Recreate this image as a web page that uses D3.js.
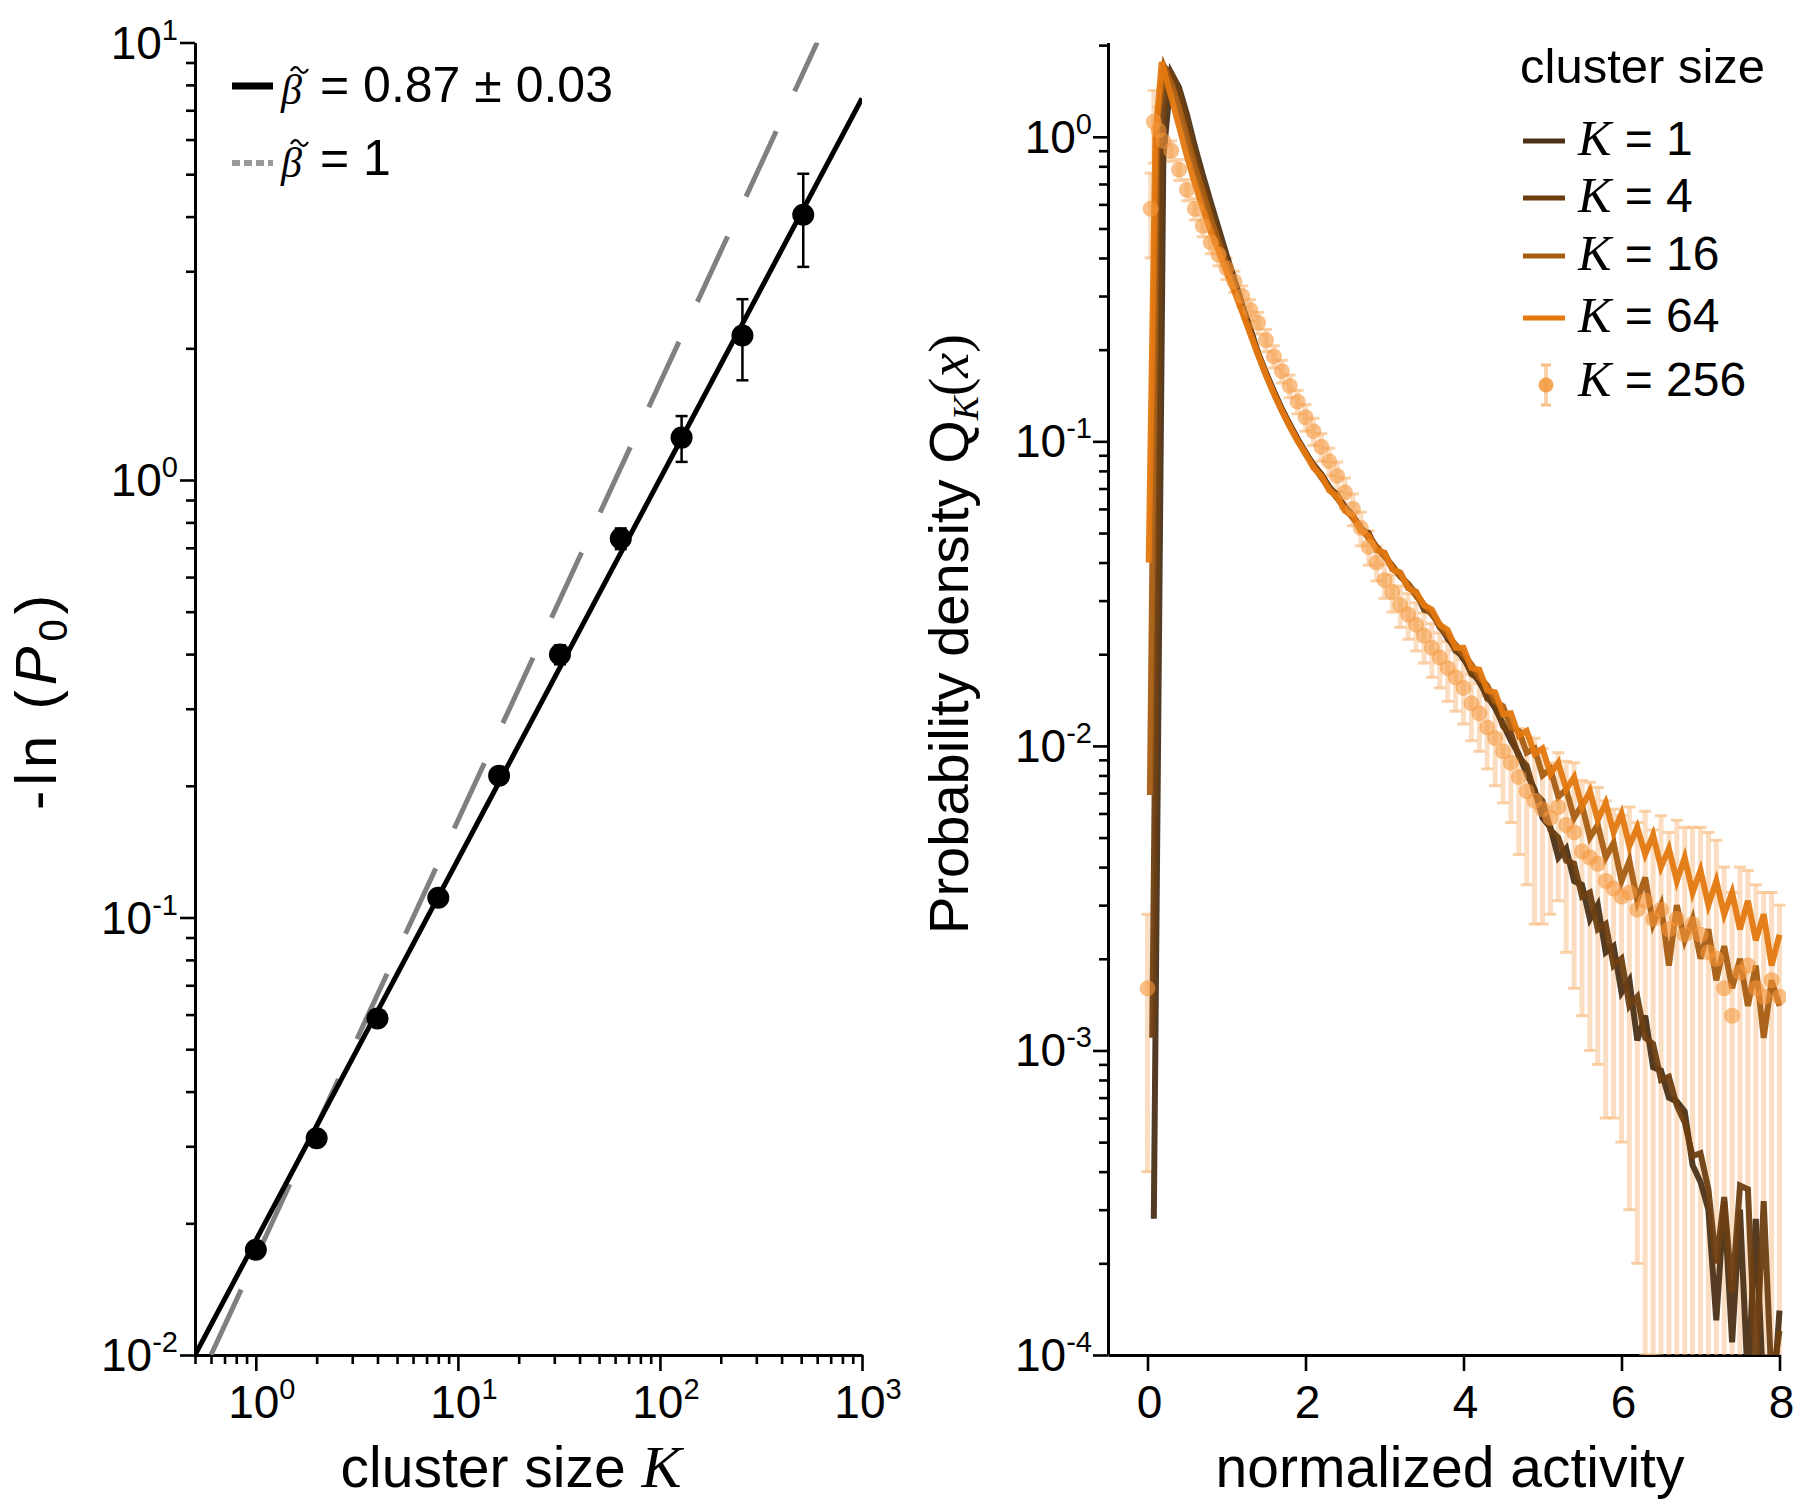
<!DOCTYPE html>
<html><head><meta charset="utf-8">
<script src="https://cdn.jsdelivr.net/npm/d3@7"></script>
<style>body{margin:0;background:#fff}</style>
</head><body><svg id="c" width="1800" height="1511"></svg>
<script>
// ---------------- LEFT PANEL DATA ----------------
const clusterSizes = [1, 2, 4, 8, 16, 32, 64, 128, 256, 512];
const negLnP0 = [0.0174, 0.0313, 0.0588, 0.111, 0.211, 0.399, 0.735, 1.25, 2.14, 4.04];
const negLnP0Err = [0.0003, 0.0005, 0.001, 0.002, 0.005, 0.02, 0.04, 0.15, 0.45, 0.97];
const fitK = [0.5, 1000], fitVal = [0.01, 7.45];      // beta = 0.87 fit
const refK = [0.6, 600], refVal = [0.01, 10];         // beta = 1 reference
const leftXTickExp = ['0', '1', '2', '3'];
const leftYTickExp = ['-2', '-1', '0', '1'];

// ---------------- RIGHT PANEL DATA ----------------
const activity = [0.3,0.4,0.5,0.6,0.7,0.8,0.9,1.0,
 1.1,1.2,1.3,1.4,1.5,1.6,1.7,1.8,1.9,2.0,
 2.1,2.2,2.3,2.4,2.5,2.6,2.7,2.8,2.9,3.0,
 3.1,3.2,3.3,3.4,3.5,3.6,3.7,3.8,3.9,4.0,
 4.1,4.2,4.3,4.4,4.5,4.6,4.7,4.8,4.9,5.0,
 5.1,5.2,5.3,5.4,5.5,5.6,5.7,5.8,5.9,6.0,
 6.1,6.2,6.3,6.4,6.5,6.6,6.7,6.8,6.9,7.0,
 7.1,7.2,7.3,7.4,7.5,7.6,7.7,7.8,7.9,8.0];

const headX1 = [0.08, 0.2], headY1 = [0.00028, 0.85];
const q1 = [1.62,1.45,1.18,0.93,0.75,0.61,0.50,0.41,
 0.34,0.28,0.235,0.195,0.168,0.146,0.128,0.114,0.102,0.092,
 0.084,0.078,0.071,0.066,0.061,0.057,0.052,0.049,0.045,0.042,
 0.039,0.036,0.034,0.0315,0.029,0.027,0.025,0.0225,0.021,0.0193,
 0.0176,0.0162,0.0146,0.0133,0.0118,0.0104,0.0094,0.0081,0.0072,0.0058,
 0.0054,0.0043,0.0046,0.0036,0.0035,0.0027,0.0030,0.0021,0.0022,0.00155,
 0.0017,0.00108,0.0013,0.00088,0.00086,0.00070,0.00068,0.00063,0.00042,0.00037,
 0.00030,0.00013,0.00032,0.00011,0.00030,0.00008,0.00028,0.00007,0.00006,0.00014];

const headX4 = [0.06, 0.17, 0.25], headY4 = [0.0011, 0.9, 1.66];
const q4 = [1.62,1.40,1.12,0.88,0.71,0.58,0.475,0.395,
 0.33,0.275,0.232,0.194,0.166,0.145,0.127,0.113,0.101,0.092,
 0.083,0.078,0.070,0.067,0.060,0.057,0.051,0.050,0.044,0.043,
 0.038,0.037,0.033,0.032,0.028,0.0275,0.0245,0.023,0.0205,0.0197,
 0.0172,0.0166,0.0143,0.0138,0.0116,0.0110,0.0092,0.0086,0.0070,0.0066,
 0.0053,0.0050,0.0042,0.0041,0.0032,0.0033,0.0025,0.0026,0.0019,0.0020,
 0.0014,0.0015,0.0011,0.00105,0.00080,0.00082,0.00066,0.00058,0.00045,0.00046,
 0.00035,0.00020,0.00033,0.00016,0.00036,0.00035,0.00009,0.00032,0.00008,0.00012];

const headX16 = [0.03, 0.12, 0.21], headY16 = [0.0069, 1.1, 1.70];
const q16 = [1.50,1.25,1.00,0.80,0.66,0.54,0.45,0.38,
 0.32,0.27,0.228,0.193,0.165,0.144,0.126,0.112,0.101,0.091,
 0.083,0.076,0.070,0.065,0.060,0.056,0.052,0.048,0.045,0.042,
 0.039,0.036,0.034,0.031,0.029,0.027,0.025,0.023,0.0215,0.020,
 0.0185,0.0168,0.0158,0.0140,0.0135,0.0115,0.0112,0.0095,0.0098,0.0080,
 0.0084,0.0068,0.0072,0.0058,0.0064,0.0050,0.0055,0.0043,0.0048,0.0036,
 0.0042,0.0031,0.0037,0.0026,0.0030,0.0019,0.0030,0.0023,0.0027,0.0020,
 0.0025,0.0017,0.0022,0.0016,0.0020,0.0014,0.0019,0.0011,0.0017,0.0014];

const headX64 = [0.015, 0.1, 0.18], headY64 = [0.04, 1.0, 1.76];
const q64 = [1.35,1.08,0.86,0.70,0.58,0.49,0.42,0.36,
 0.31,0.265,0.225,0.192,0.165,0.143,0.126,0.112,0.100,0.091,
 0.082,0.077,0.069,0.066,0.059,0.057,0.051,0.049,0.044,0.043,
 0.038,0.037,0.033,0.032,0.029,0.028,0.025,0.024,0.021,0.0210,
 0.0180,0.0178,0.0152,0.0150,0.0127,0.0128,0.0108,0.0112,0.0094,0.0098,
 0.0081,0.0088,0.0072,0.0079,0.0063,0.0071,0.0057,0.0065,0.0052,0.0060,
 0.0047,0.0054,0.0044,0.0051,0.0040,0.0046,0.0036,0.0043,0.0033,0.0039,
 0.0030,0.0036,0.0028,0.0033,0.0025,0.0031,0.0023,0.0028,0.0019,0.0024];

const headX256 = [0.0, 0.04, 0.08, 0.14, 0.2];
const headY256 = [0.0016, 0.58, 1.12, 1.05, 0.97];
const headE256 = [0.0012, 0.18, 0.30, 0.20, 0.12];
const p256 = [0.90,0.78,0.67,0.58,0.51,0.45,0.41,0.37,
 0.335,0.30,0.27,0.245,0.215,0.19,0.17,0.152,0.135,0.12,
 0.108,0.096,0.086,0.077,0.068,0.060,0.052,0.045,0.040,0.035,
 0.032,0.029,0.027,0.025,0.023,0.021,0.0195,0.018,0.0168,0.0155,
 0.0138,0.0128,0.0115,0.0106,0.0096,0.0088,0.0079,0.0071,0.0066,0.0062,
 0.0058,0.0063,0.0055,0.0052,0.0045,0.0043,0.0041,0.0036,0.0034,0.0032,
 0.0033,0.0029,0.0031,0.0027,0.0029,0.0025,0.0027,0.0024,0.0026,0.0024,
 0.0021,0.0020,0.0016,0.0013,0.0018,0.0019,0.0016,0.0015,0.0017,0.0015];
const e256 = [0.07,0.062,0.054,0.047,0.041,0.037,0.033,0.03,
 0.027,0.024,0.022,0.02,0.018,0.016,0.0145,0.013,0.012,0.012,
 0.011,0.010,0.009,0.0085,0.0078,0.0072,0.0066,0.0058,0.0052,0.0045,
 0.0045,0.0045,0.0046,0.0045,0.0043,0.0042,0.0040,0.0040,0.0038,0.0037,
 0.0034,0.0032,0.0031,0.0032,0.0031,0.0032,0.0035,0.0036,0.0040,0.0036,
 0.0030,0.0032,0.0034,0.0036,0.0032,0.0033,0.0032,0.0030,0.0028,0.0027,
 0.0030,0.0027,0.0030,0.0026,0.0030,0.0027,0.0030,0.0030,0.0028,0.0030,
 0.0031,0.0029,0.0024,0.0020,0.0022,0.0020,0.0019,0.0018,0.0016,0.0015];

const rightXTicks = [0, 2, 4, 6, 8];
const rightYTickExp = ['-4', '-3', '-2', '-1', '0'];
const seriesNames = ['1', '4', '16', '64'];
const seriesColors = ['#4b3218', '#6e3f12', '#a85d12', '#e37810'];
const dotColor = '#f5963a', barColor = '#f9bf85';

// ---------------- DRAWING ----------------
const FONT = '"Liberation Sans", Arial, Helvetica, sans-serif';
const SERIF = '"Liberation Serif", "Times New Roman", serif';
const svg = d3.select('#c');
svg.append('rect').attr('width', 1800).attr('height', 1511).attr('fill', '#fff');
const defs = svg.append('defs');

function isDecade(v) { const l = Math.log10(v); return Math.abs(l - Math.round(l)) < 1e-6; }
function powLabel(g, x, y, exp, anchor) {
  const t = g.append('text').attr('x', x).attr('y', y).attr('text-anchor', anchor)
    .attr('font-family', FONT).attr('font-size', 46).attr('fill', '#000');
  t.append('tspan').text('10');
  t.append('tspan').attr('font-size', 29).attr('dy', -19).text(exp);
  return t;
}
function styleAxis(g) {
  g.select('.domain').attr('stroke', '#000').attr('stroke-width', 3);
  g.selectAll('.tick line').attr('stroke', '#000').attr('stroke-width', 2.6);
  g.selectAll('.tick text').remove();
}

// ===== LEFT =====
const xL = d3.scaleLog().domain([0.5, 1000]).range([195, 862]);
const yL = d3.scaleLog().domain([0.01, 10]).range([1355, 42.5]);
const gL = svg.append('g');
defs.append('clipPath').attr('id', 'clipL').append('rect')
  .attr('x', 195).attr('y', 42.5).attr('width', 667).attr('height', 1312.5);

const gyl = gL.append('g').attr('transform', 'translate(195,0)')
  .call(d3.axisLeft(yL).tickValues(yL.ticks()).tickSize(8).tickSizeOuter(0).tickFormat(''));
styleAxis(gyl);
gyl.selectAll('.tick line').attr('x2', d => isDecade(d) ? -15 : -9);
yL.ticks().filter(isDecade).forEach((v, i) => powLabel(gL, 178, yL(v) + 16, leftYTickExp[i], 'end'));

const gxl = gL.append('g').attr('transform', 'translate(0,1355)')
  .call(d3.axisBottom(xL).tickValues(xL.ticks()).tickSize(8).tickSizeOuter(0).tickFormat(''));
styleAxis(gxl);
gxl.selectAll('.tick line').attr('y2', d => isDecade(d) ? 16 : 9);
xL.ticks().filter(isDecade).forEach((v, i) => powLabel(gL, xL(v) + 6, 1418, leftXTickExp[i], 'middle'));

const plotL = gL.append('g').attr('clip-path', 'url(#clipL)');
const lineL = d3.line().x(d => xL(d[0])).y(d => yL(d[1]));
plotL.append('path').datum(refK.map((k, i) => [k, refVal[i]])).attr('d', lineL)
  .attr('fill', 'none').attr('stroke', '#808080').attr('stroke-width', 5).attr('stroke-dasharray', '72,44');
plotL.append('path').datum(fitK.map((k, i) => [k, fitVal[i]])).attr('d', lineL)
  .attr('fill', 'none').attr('stroke', '#000').attr('stroke-width', 5);
clusterSizes.forEach((k, i) => {
  const v = negLnP0[i], e = negLnP0Err[i], x = xL(k);
  const y0 = yL(v - e), y1 = yL(v + e);
  plotL.append('line').attr('x1', x).attr('x2', x).attr('y1', y0).attr('y2', y1).attr('stroke', '#000').attr('stroke-width', 2.5);
  [y0, y1].forEach(yy => plotL.append('line').attr('x1', x - 6).attr('x2', x + 6).attr('y1', yy).attr('y2', yy).attr('stroke', '#000').attr('stroke-width', 2.5));
  plotL.append('circle').attr('cx', x).attr('cy', yL(v)).attr('r', 11).attr('fill', '#000');
});

// left legend
gL.append('line').attr('x1', 232).attr('x2', 273).attr('y1', 86).attr('y2', 86).attr('stroke', '#000').attr('stroke-width', 7);
gL.append('line').attr('x1', 232).attr('x2', 273).attr('y1', 163).attr('y2', 163).attr('stroke', '#999').attr('stroke-width', 6).attr('stroke-dasharray', '8,4');
function betaEntry(y, rest) {
  const t = gL.append('text').attr('x', 281).attr('y', y + 2).attr('font-family', FONT).attr('font-size', 50);
  t.append('tspan').attr('font-family', SERIF).attr('font-style', 'italic')
    .attr('font-size', 42).text('\u03B2');
  t.append('tspan').attr('x', 320).attr('dy', -2).text(rest);
  // tilde accent over beta
  const ty = y - 32;
  gL.append('path').attr('d', `M291,${ty + 1} C294,${ty - 4} 297,${ty - 4} 299.5,${ty} S305,${ty + 4} 308,${ty - 1}`)
    .attr('fill', 'none').attr('stroke', '#000').attr('stroke-width', 2.2);
}
betaEntry(102, '= 0.87 ± 0.03');
betaEntry(175, '= 1');

// left axis titles
const tl = gL.append('text').attr('x', 511).attr('y', 1487).attr('text-anchor', 'middle')
  .attr('font-family', FONT).attr('font-size', 57);
tl.append('tspan').text('cluster size ');
tl.append('tspan').attr('font-family', SERIF).attr('font-style', 'italic').attr('font-size', 60).text('K');

const yl = gL.append('text').attr('transform', 'translate(56,700) rotate(-90)').attr('text-anchor', 'middle')
  .attr('font-family', FONT).attr('font-size', 58).attr('letter-spacing', 5);
yl.append('tspan').text('-ln (');
yl.append('tspan').attr('font-style', 'italic').text('P');
yl.append('tspan').attr('font-size', 40).attr('dy', 11).text('0');
yl.append('tspan').attr('dy', -11).text(')');

// ===== RIGHT =====
const xR = d3.scaleLinear().domain([-0.5, 8]).range([1108, 1779.5]);
const yR = d3.scaleLog().domain([1e-4, 2.04]).range([1355, 42.5]);
const gR = svg.append('g');
defs.append('clipPath').attr('id', 'clipR').append('rect')
  .attr('x', 1108).attr('y', 42.5).attr('width', 678).attr('height', 1312.5);

const yTicksR = yR.ticks().filter(v => v <= 2.04);
const gyr = gR.append('g').attr('transform', 'translate(1108,0)')
  .call(d3.axisLeft(yR).tickValues(yTicksR).tickSize(8).tickSizeOuter(0).tickFormat(''));
styleAxis(gyr);
gyr.selectAll('.tick line').attr('x2', d => isDecade(d) ? -15 : -9);
yTicksR.filter(isDecade).forEach((v, i) => powLabel(gR, 1092, yR(v) + 16, rightYTickExp[i], 'end'));

const gxr = gR.append('g').attr('transform', 'translate(0,1355)')
  .call(d3.axisBottom(xR).tickValues(rightXTicks).tickSize(16).tickSizeOuter(0).tickFormat(''));
styleAxis(gxr);
rightXTicks.forEach(v => gR.append('text').attr('x', xR(v) + 2).attr('y', 1418).attr('text-anchor', 'middle')
  .attr('font-family', FONT).attr('font-size', 46).text(v));

const plotR = gR.append('g').attr('clip-path', 'url(#clipR)');
const pts256 = headX256.map((x, i) => ({x, v: headY256[i], e: headE256[i]}))
  .concat(activity.map((x, i) => ({x, v: p256[i], e: e256[i]})));
// error bars
pts256.forEach(d => {
  const lo = Math.max(d.v - d.e, 1e-6), hi = d.v + d.e, x = xR(d.x);
  plotR.append('line').attr('x1', x).attr('x2', x).attr('y1', yR(lo)).attr('y2', yR(hi))
    .attr('stroke', barColor).attr('stroke-width', 5).attr('opacity', 0.5);
  [lo, hi].forEach(b => plotR.append('line').attr('x1', x - 6).attr('x2', x + 6).attr('y1', yR(b)).attr('y2', yR(b))
    .attr('stroke', barColor).attr('stroke-width', 3).attr('opacity', 0.7));
});
// lines
const lineR = d3.line().x(d => xR(d[0])).y(d => yR(d[1]));
const allSeries = [
  headX1.map((x, i) => [x, headY1[i]]).concat(activity.map((x, i) => [x, q1[i]])),
  headX4.map((x, i) => [x, headY4[i]]).concat(activity.map((x, i) => [x, q4[i]])),
  headX16.map((x, i) => [x, headY16[i]]).concat(activity.map((x, i) => [x, q16[i]])),
  headX64.map((x, i) => [x, headY64[i]]).concat(activity.map((x, i) => [x, q64[i]]))
];
allSeries.forEach((s, i) => plotR.append('path').datum(s).attr('d', lineR).attr('fill', 'none')
  .attr('stroke', seriesColors[i]).attr('stroke-width', 6).attr('stroke-opacity', 0.95));
// dots
pts256.forEach(d => plotR.append('circle').attr('cx', xR(d.x)).attr('cy', yR(d.v)).attr('r', 8)
  .attr('fill', dotColor).attr('opacity', 0.6));

// right legend
gR.append('text').attr('x', 1520).attr('y', 83).attr('font-family', FONT).attr('font-size', 49).text('cluster size');
const legY = [155, 212, 270, 332];
seriesNames.forEach((n, i) => {
  gR.append('line').attr('x1', 1523).attr('x2', 1565).attr('y1', legY[i] - 14).attr('y2', legY[i] - 14)
    .attr('stroke', seriesColors[i]).attr('stroke-width', 5);
  const t = gR.append('text').attr('x', 1578).attr('y', legY[i]).attr('font-family', FONT).attr('font-size', 48);
  t.append('tspan').attr('font-family', SERIF).attr('font-style', 'italic').attr('font-size', 50).text('K');
  t.append('tspan').text(' = ' + n);
});
gR.append('line').attr('x1', 1546).attr('x2', 1546).attr('y1', 365).attr('y2', 405).attr('stroke', barColor).attr('stroke-width', 4).attr('opacity', 0.7);
[365, 405].forEach(yy => gR.append('line').attr('x1', 1541).attr('x2', 1551).attr('y1', yy).attr('y2', yy).attr('stroke', barColor).attr('stroke-width', 3));
gR.append('circle').attr('cx', 1546).attr('cy', 385).attr('r', 7.5).attr('fill', dotColor).attr('opacity', 0.85);
const t256 = gR.append('text').attr('x', 1578).attr('y', 396).attr('font-family', FONT).attr('font-size', 48);
t256.append('tspan').attr('font-family', SERIF).attr('font-style', 'italic').attr('font-size', 50).text('K');
t256.append('tspan').text(' = 256');

// right axis titles
gR.append('text').attr('x', 1450).attr('y', 1487).attr('text-anchor', 'middle')
  .attr('font-family', FONT).attr('font-size', 57).text('normalized activity');
const yr = gR.append('text').attr('transform', 'translate(968,634) rotate(-90)').attr('text-anchor', 'middle')
  .attr('font-family', FONT).attr('font-size', 56);
yr.append('tspan').text('Probability density Q');
yr.append('tspan').attr('font-family', SERIF).attr('font-style', 'italic').attr('font-size', 36).attr('dy', 10).text('K');
yr.append('tspan').attr('font-family', SERIF).attr('dy', -10).text('(');
yr.append('tspan').attr('font-family', SERIF).attr('font-style', 'italic').text('x');
yr.append('tspan').attr('font-family', SERIF).text(')');
</script></body></html>
